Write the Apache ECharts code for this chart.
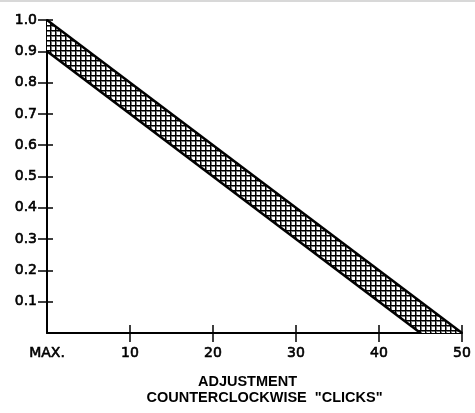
<!DOCTYPE html>
<html>
<head>
<meta charset="utf-8">
<script src="https://cdn.jsdelivr.net/npm/echarts@6/dist/echarts.min.js"></script>
<style>
html,body{margin:0;padding:0;background:#fff;}
#c{width:475px;height:413px;}
</style>
</head>
<body>
<div id="c"></div>
<script>
// Data
const upperLine = [[0, 1.0], [50, 0]];
const lowerLine = [[0, 0.9], [45, 0]];
const xTickValues = [0, 10, 20, 30, 40, 50];
const xTickLabels = ['MAX.', '10', '20', '30', '40', '50'];
const xTickMarks = [10, 20, 30, 40, 50];
const yTickValues = [0.1, 0.2, 0.3, 0.4, 0.5, 0.6, 0.7, 0.8, 0.9, 1.0];
const yTickLabels = ['0.1', '0.2', '0.3', '0.4', '0.5', '0.6', '0.7', '0.8', '0.9', '1.0'];
const xAxisTitleLines = ['ADJUSTMENT', 'COUNTERCLOCKWISE  "CLICKS"'];

// crosshatch pattern
const pc = document.createElement('canvas');
pc.width = 5; pc.height = 5;
const pctx = pc.getContext('2d');
pctx.fillStyle = '#fff';
pctx.fillRect(0, 0, 5, 5);
pctx.fillStyle = '#777';
pctx.fillRect(0, 1, 5, 1);
pctx.fillRect(1, 0, 1, 5);
pctx.fillStyle = '#000';
pctx.fillRect(0, 0, 5, 1);
pctx.fillRect(0, 0, 1, 5);

const tickFont = { fontFamily: 'DejaVu Sans, sans-serif', fontSize: 14, color: '#000',
  textBorderColor: '#000', textBorderWidth: 0.6 };
const titleFont = 'bold 14.5px "Liberation Sans", Arial, sans-serif';
const chart = echarts.init(document.getElementById('c'), null, { renderer: 'canvas' });

const bandPoly = upperLine.concat(lowerLine.slice().reverse());

chart.setOption({
  animation: false,
  grid: { left: 47, right: 13, top: 20, bottom: 80 },
  graphic: [
    { type: 'rect', shape: { x: 0, y: 0, width: 475, height: 2 }, style: { fill: '#d8d8d8' }, silent: true },
    { type: 'text', x: 247.5, y: 381.5, style: { text: xAxisTitleLines[0], font: titleFont, fill: '#000', align: 'center', verticalAlign: 'middle' } },
    { type: 'text', x: 264.5, y: 397.5, style: { text: xAxisTitleLines[1], font: titleFont, fill: '#000', align: 'center', verticalAlign: 'middle' } }
  ],
  xAxis: [{
    type: 'value', min: 0, max: 50, interval: 10,
    axisLine: { show: true, lineStyle: { color: '#000', width: 2 } },
    axisTick: { show: true, length: 9, inside: false, customValues: xTickMarks, lineStyle: { color: '#000', width: 1.5 } },
    axisLabel: Object.assign({ margin: 13, customValues: xTickValues,
      formatter: v => { const i = xTickValues.indexOf(v); return i >= 0 ? xTickLabels[i] : ''; } }, tickFont),
    splitLine: { show: false }
  }, {
    type: 'value', min: 0, max: 50, interval: 10, position: 'bottom',
    axisLine: { show: false },
    axisTick: { show: true, length: 8, inside: true, customValues: xTickMarks, lineStyle: { color: '#000', width: 1.5 } },
    axisLabel: { show: false }, splitLine: { show: false }
  }],
  yAxis: [{
    type: 'value', min: 0, max: 1.0, interval: 0.1,
    axisLine: { show: true, lineStyle: { color: '#000', width: 2 } },
    axisTick: { show: true, length: 9, inside: false, customValues: yTickValues, lineStyle: { color: '#000', width: 1.5 } },
    axisLabel: Object.assign({ margin: 10, customValues: yTickValues,
      formatter: v => { const i = yTickValues.findIndex(t => Math.abs(t - v) < 1e-6); return i >= 0 ? yTickLabels[i] : ''; } }, tickFont),
    splitLine: { show: false }
  }, {
    type: 'value', min: 0, max: 1.0, interval: 0.1, position: 'left',
    axisLine: { show: false },
    axisTick: { show: true, length: 6, inside: true, customValues: yTickValues, lineStyle: { color: '#000', width: 1.5 } },
    axisLabel: { show: false }, splitLine: { show: false }
  }],
  series: [{
    type: 'custom',
    xAxisIndex: 0, yAxisIndex: 0,
    data: [0],
    renderItem: function (params, api) {
      const pts = bandPoly.map(p => api.coord(p));
      return {
        type: 'polygon',
        shape: { points: pts },
        style: { fill: { image: pc, repeat: 'repeat' }, stroke: null }
      };
    },
    z: 2
  }, {
    type: 'line', data: upperLine, symbol: 'none', xAxisIndex: 0, yAxisIndex: 0,
    lineStyle: { color: '#000', width: 2.5 }, z: 3
  }, {
    type: 'line', data: lowerLine, symbol: 'none', xAxisIndex: 0, yAxisIndex: 0,
    lineStyle: { color: '#000', width: 2.5 }, z: 3
  }]
});
</script>
</body>
</html>
